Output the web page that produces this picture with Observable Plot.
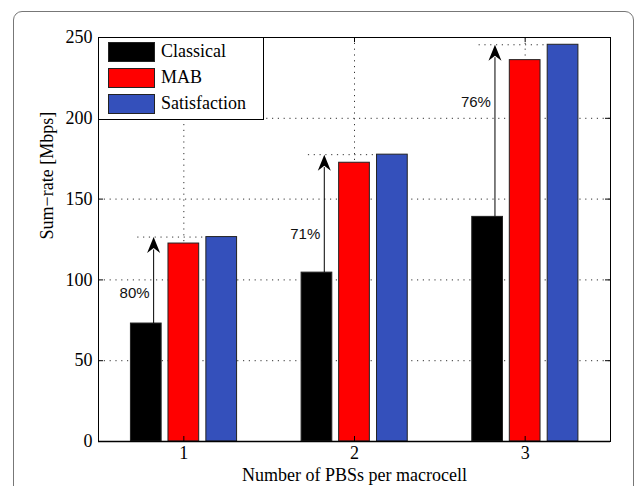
<!DOCTYPE html>
<html>
<head>
<meta charset="utf-8">
<script src="https://cdn.jsdelivr.net/npm/d3@7"></script>
<script src="https://cdn.jsdelivr.net/npm/@observablehq/plot@0.6"></script>
<style>
  html, body { margin: 0; padding: 0; background: #fff; }
  #wrap { position: relative; width: 634px; height: 486px; overflow: hidden; }
  #outer { position: absolute; left: 13px; top: 11px; width: 621px; height: 520px;
           border: 1.5px solid #777; border-radius: 9px; box-sizing: border-box; }
  #chart { position: absolute; left: 0; top: 0; }
  #legend { position: absolute; left: 98px; top: 37px; width: 166px; height: 83px;
            box-sizing: border-box; border: 1px solid #000; background: #fff;
            font-family: "Liberation Serif", "Times New Roman", serif; font-size: 18px; }
  .row { position: absolute; left: 0; height: 20px; }
  .sw { position: absolute; left: 9px; top: 0; width: 47px; height: 20px; box-sizing: border-box; border: 1px solid #222; }
  .lbl { position: absolute; left: 62px; top: -1px; line-height: 20px; white-space: nowrap; }
</style>
</head>
<body>
<div id="wrap">
  <div id="outer"></div>
  <div id="chart"></div>
  <div id="legend"></div>
</div>
<script>
const groups = [1, 2, 3];
const series = ["Classical", "MAB", "Satisfaction"];
const colors = ["#000000", "#ff0000", "#3450bb"];
const classical = [73, 104.5, 139];
const mab = [122.5, 172.5, 236];
const satisfaction = [126.5, 177.5, 245.5];
const gains = ["80%", "71%", "76%"];
const gainLabelY = [92, 128, 210];
const yTicks = [0, 50, 100, 150, 200, 250];
const xLabel = "Number of PBSs per macrocell";
const yLabel = "Sum\u2212rate [Mbps]";

// layout constants (in x data units)
const barOffsets = [-0.22, 0, 0.222];
const barHalf = 0.09;
const arrowOffset = -0.177;
const tkX = 5 / 171, tkY = 250 * 5 / 404;

const values = [classical, mab, satisfaction];
const bars = [];
groups.forEach((g, gi) => series.forEach((s, si) => bars.push({g, s, si, v: values[si][gi]})));
const arrows = groups.map((g, gi) => ({g, lo: classical[gi], hi: satisfaction[gi], label: gains[gi], ly: gainLabelY[gi]}));

const stealth = {
  draw(ctx) {
    ctx.moveTo(0, 0);
    ctx.lineTo(6.5, 16);
    ctx.lineTo(0, 11);
    ctx.lineTo(-6.5, 16);
    ctx.closePath();
  }
};

const dotted = {stroke: "#333", strokeWidth: 1, strokeDasharray: "1.2,4.6"};
const serif = "Liberation Serif, Times New Roman, serif";

const chart = Plot.plot({
  width: 634, height: 486,
  marginTop: 37, marginBottom: 45, marginLeft: 98, marginRight: 24,
  x: {domain: [0.5, 3.5]},
  y: {domain: [0, 250]},
  style: {fontFamily: serif, fontSize: "18px", color: "#000", background: "transparent"},
  marks: [
    Plot.ruleX(groups, {x: d => d, ...dotted}),
    Plot.ruleY(yTicks.slice(1, -1), {y: d => d, ...dotted}),
    Plot.ruleY(arrows, {y: "hi", x1: d => d.g - 0.27, x2: d => d.g + 0.13, ...dotted}),
    Plot.rect(bars, {
      x1: d => d.g + barOffsets[d.si] - barHalf,
      x2: d => d.g + barOffsets[d.si] + barHalf,
      y1: 0, y2: "v",
      fill: d => colors[d.si], stroke: "#222", strokeWidth: 1
    }),
    Plot.ruleX(arrows, {x: d => d.g + arrowOffset, y1: "lo", y2: d => d.hi - 8, stroke: "#000", strokeWidth: 1}),
    Plot.dot(arrows, {x: d => d.g + arrowOffset, y: "hi", symbol: stealth, fill: "#000", stroke: "none"}),
    Plot.text(arrows, {x: d => d.g + arrowOffset, y: "ly", text: "label", textAnchor: "end", dx: -4,
      fontFamily: "Liberation Sans, Arial, sans-serif", fontSize: 15, fill: "#111"}),
    // inward ticks
    Plot.ruleY(yTicks, {y: d => d, x1: 0.5, x2: 0.5 + tkX, stroke: "#000"}),
    Plot.ruleY(yTicks, {y: d => d, x1: 3.5 - tkX, x2: 3.5, stroke: "#000"}),
    Plot.ruleX(groups, {x: d => d, y1: 0, y2: tkY, stroke: "#000"}),
    Plot.ruleX(groups, {x: d => d, y1: 250 - tkY, y2: 250, stroke: "#000"}),
    Plot.frame({stroke: "#000", strokeWidth: 1}),
    Plot.ruleY([0], {stroke: "#000", strokeWidth: 1.6}),
    Plot.axisY(yTicks, {tickSize: 0, tickPadding: 6, label: null, fontSize: 18, fontFamily: serif}),
    Plot.axisX(groups, {tickSize: 0, tickPadding: 5, label: null, fontSize: 18, fontFamily: serif, tickFormat: d => String(d)}),
    Plot.text([yLabel], {frameAnchor: "left", dx: -51, rotate: -90, fontSize: 18, fontFamily: serif, lineAnchor: "middle"}),
    Plot.text([xLabel], {frameAnchor: "bottom", dy: 34, fontSize: 18, fontFamily: serif, lineAnchor: "middle"})
  ]
});
document.getElementById("chart").appendChild(chart);

const legend = document.getElementById("legend");
const rowTops = [4, 30, 56];
series.forEach((s, i) => {
  const row = document.createElement("div");
  row.className = "row";
  row.style.top = rowTops[i] + "px";
  const sw = document.createElement("div");
  sw.className = "sw";
  sw.style.background = colors[i];
  const lb = document.createElement("div");
  lb.className = "lbl";
  lb.textContent = s;
  row.appendChild(sw); row.appendChild(lb);
  legend.appendChild(row);
});
</script>
</body>
</html>
